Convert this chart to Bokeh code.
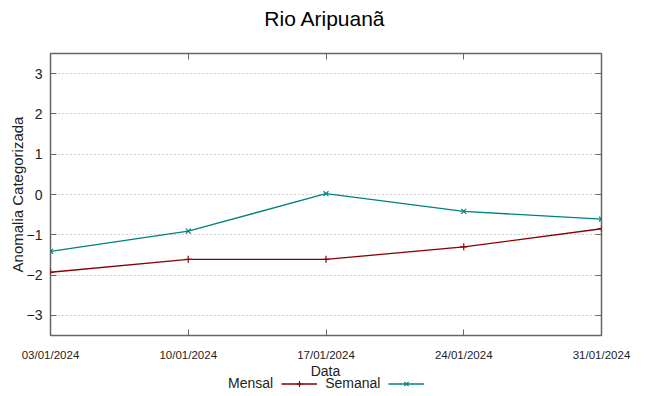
import pandas as pd
from bokeh.plotting import figure
from bokeh.layouts import column
from bokeh.models import Range1d, FixedTicker, LinearAxis, Legend, LegendItem, Label
from bokeh.embed import file_html
from bokeh.resources import INLINE

# ---- data ----
title_text = "Rio Aripuanã"
dates = ["2024-01-03", "2024-01-10", "2024-01-17", "2024-01-24", "2024-01-31"]
tick_labels = ["03/01/2024", "10/01/2024", "17/01/2024", "24/01/2024", "31/01/2024"]
mensal = [-1.93, -1.61, -1.61, -1.30, -0.85]
semanal = [-1.41, -0.91, 0.02, -0.42, -0.61]
y_ticks = [-3, -2, -1, 0, 1, 2, 3]
series_names = ["Mensal", "Semanal"]

dt = pd.to_datetime(dates)
x = [int((d - dt[0]).days) for d in dt]

FONT = "Liberation Sans"
RED = "#8b0000"
TEAL = "#008080"
BORDER = "#666666"
TXT = "#222222"

W = 649
H_TOP = 45
H_MAIN = 318
H_LEG = 33

# ---- title strip ----
t = figure(width=W, height=H_TOP, output_backend="svg", toolbar_location=None,
           x_range=Range1d(0, 1), y_range=Range1d(0, 1),
           x_axis_location=None, y_axis_location=None, min_border=0)
t.outline_line_color = None
t.xgrid.grid_line_color = None
t.ygrid.grid_line_color = None
t.add_layout(Label(x=274.5, y=27, x_units="screen", y_units="screen", text=title_text,
                   text_font=FONT, text_font_size="21px", text_color="black",
                   text_align="center", text_baseline="middle"))

# ---- main chart ----
p = figure(width=W, height=H_MAIN, output_backend="svg", toolbar_location=None,
           x_range=Range1d(x[0], x[-1]), y_range=Range1d(-3.5, 3.5),
           min_border_left=50, min_border_right=48, min_border_top=8, min_border_bottom=28)

p.outline_line_color = BORDER
p.outline_line_width = 1.5
p.background_fill_color = "white"
p.border_fill_color = "white"

xt = FixedTicker(ticks=x)
yt = FixedTicker(ticks=y_ticks)

xa = p.xaxis[0]
xa.ticker = xt
xa.major_label_overrides = {xi: lab for xi, lab in zip(x, tick_labels)}
xa.major_label_text_font = FONT
xa.major_label_text_font_size = "11.5px"
xa.major_label_standoff = 13

ya = p.yaxis[0]
ya.ticker = yt
ya.major_label_text_font = FONT
ya.major_label_text_font_size = "14px"
ya.major_label_standoff = 8
ya.axis_label = "Anomalia Categorizada"
ya.axis_label_text_font = FONT
ya.axis_label_text_font_size = "15px"
ya.axis_label_text_font_style = "normal"
ya.axis_label_standoff = -2

for ax in (xa, ya):
    ax.axis_line_color = None
    ax.major_tick_in = 6
    ax.major_tick_out = 0
    ax.major_tick_line_color = BORDER
    ax.minor_tick_line_color = None
    ax.major_label_text_color = TXT
    ax.axis_label_text_color = TXT

top = LinearAxis(ticker=xt, major_label_text_font_size="0px", major_label_standoff=0)
right = LinearAxis(ticker=yt, major_label_text_font_size="0px", major_label_standoff=0)
for ax in (top, right):
    ax.axis_line_color = None
    ax.major_tick_in = 6
    ax.major_tick_out = 0
    ax.major_tick_line_color = BORDER
    ax.minor_tick_line_color = None
p.add_layout(top, "above")
p.add_layout(right, "right")

p.xgrid.grid_line_color = None
p.ygrid.ticker = yt
p.ygrid.grid_line_color = "#a0a0a0"
p.ygrid.grid_line_dash = "1 3"
p.ygrid.grid_line_width = 1

p.line(x, mensal, line_color=RED, line_width=1.3)
p.scatter(x, mensal, marker="cross", size=7, line_color=RED, line_width=1.2)
p.line(x, semanal, line_color=TEAL, line_width=1.3)
p.scatter(x, semanal, marker="x", size=7, line_color=TEAL, line_width=1.2)

# ---- strip below: x-axis title and gnuplot-style key (text, then sample) ----
q = figure(width=W, height=H_LEG, output_backend="svg", toolbar_location=None,
           x_range=Range1d(0, 1), y_range=Range1d(10, 11),
           x_axis_location=None, y_axis_location=None, min_border=0)
q.outline_line_color = None
q.xgrid.grid_line_color = None
q.ygrid.grid_line_color = None

q.add_layout(Label(x=275, y=25.3, x_units="screen", y_units="screen", text="Data",
                   text_font=FONT, text_font_size="14px", text_color=TXT,
                   text_align="center", text_baseline="middle"))

# key samples reuse the series data; the strip's ranges keep them off-screen
blank = q.line(x, mensal, line_alpha=0)
k_ml = q.line(x, mensal, line_color=RED, line_width=1.3)
k_ms = q.scatter(x, mensal, marker="cross", line_color=RED, line_width=1.2)
k_sl = q.line(x, semanal, line_color=TEAL, line_width=1.3)
k_ss = q.scatter(x, semanal, marker="x", line_color=TEAL, line_width=1.2)

key = Legend(items=[LegendItem(label=series_names[0], renderers=[blank]),
                    LegendItem(label=series_names[1], renderers=[k_ml, k_ms]),
                    LegendItem(label=" ", renderers=[k_sl, k_ss])],
             orientation="horizontal", location=(134, 5),
             glyph_width=36, glyph_height=15, label_height=14, label_width=0,
             label_standoff=8, spacing=8, padding=0, margin=0,
             label_text_font=FONT, label_text_font_size="14px", label_text_color=TXT,
             border_line_color=None, background_fill_alpha=0)
q.add_layout(key, "center")

layout = column(t, p, q, spacing=0)
open("out.html", "w").write(file_html(layout, INLINE))
